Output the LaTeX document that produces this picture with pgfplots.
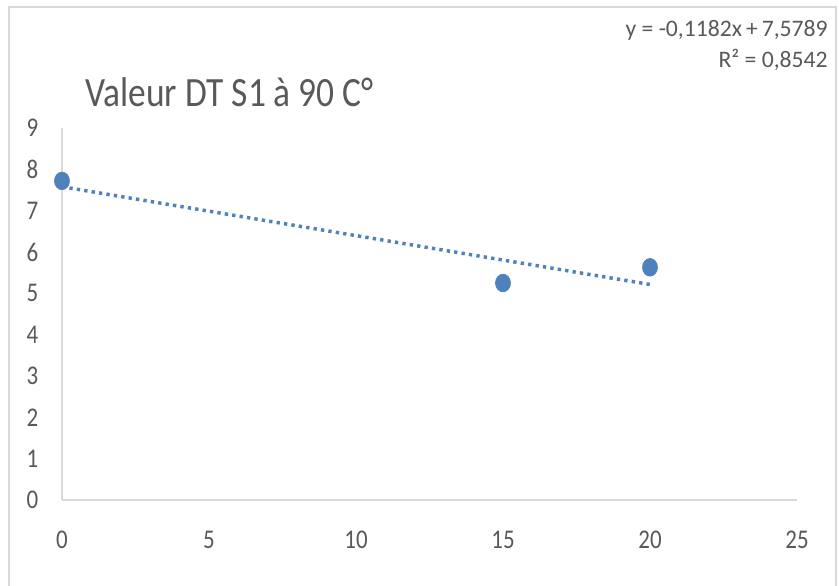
\documentclass[border=0pt]{standalone}
\usepackage{fontspec}
\setmainfont{Carlito}[FakeStretch=0.85]
\newfontfamily\eqfont{Carlito}
\usepackage{pgfplots}
\pgfplotsset{compat=1.18}
\definecolor{txt}{HTML}{595959}
\definecolor{axisgray}{HTML}{D9D9D9}
\definecolor{frame}{HTML}{D9D9D9}
\definecolor{pts}{HTML}{4F81BD}
\begin{document}
\begin{tikzpicture}[x=0.6pt,y=0.6pt]
\useasboundingbox (0,0) rectangle (839,585);
% chart frame
\draw[frame, line width=1.5pt] (9,-10) -- (9,578) -- (836,578) -- (836,-10);
\begin{axis}[
  at={(37.2pt,51pt)}, anchor=south west,
  scale only axis, width=441pt, height=223.2pt,
  xmin=0, xmax=25, ymin=0, ymax=9,
  xtick={0,5,...,25}, ytick={0,1,...,9},
  axis x line*=bottom, axis y line*=left,
  axis line style={draw=axisgray, line width=0.9pt, -},
  major tick length=0pt,
  /pgf/number format/assume math mode=true,
  tick label style={font=\fontsize{16.2pt}{18pt}\selectfont, text=txt, inner sep=0pt},
  xticklabel style={anchor=center, yshift=-24pt},
  yticklabel style={anchor=east, xshift=-14pt},
  clip=false,
]
% linear trend line y = -0,1182x + 7,5789
\addplot[pts, line width=2.1pt, dash pattern=on 2pt off 2.5pt] coordinates {(0,7.5789) (20,5.2149)};
\addplot[only marks, mark=*, mark size=5.3pt, mark options={fill=pts, draw=pts, xscale=0.85}] coordinates {
  (0,7.72) (15,5.25) (20,5.63)
};
\end{axis}
\node[anchor=base west, text=txt, font=\fontsize{25pt}{30pt}\selectfont, inner sep=0pt] at (85,478) {Valeur DT S1 à 90 C°};
\node[anchor=base east, text=txt, font=\eqfont\fontsize{14.2pt}{17pt}\selectfont, inner sep=0pt] at (828,548) {y = -0,1182x\,+\,7,5789};
\node[anchor=base east, text=txt, font=\eqfont\fontsize{14.2pt}{17pt}\selectfont, inner sep=0pt] at (828,517) {R² = 0,8542};
\end{tikzpicture}
\end{document}
